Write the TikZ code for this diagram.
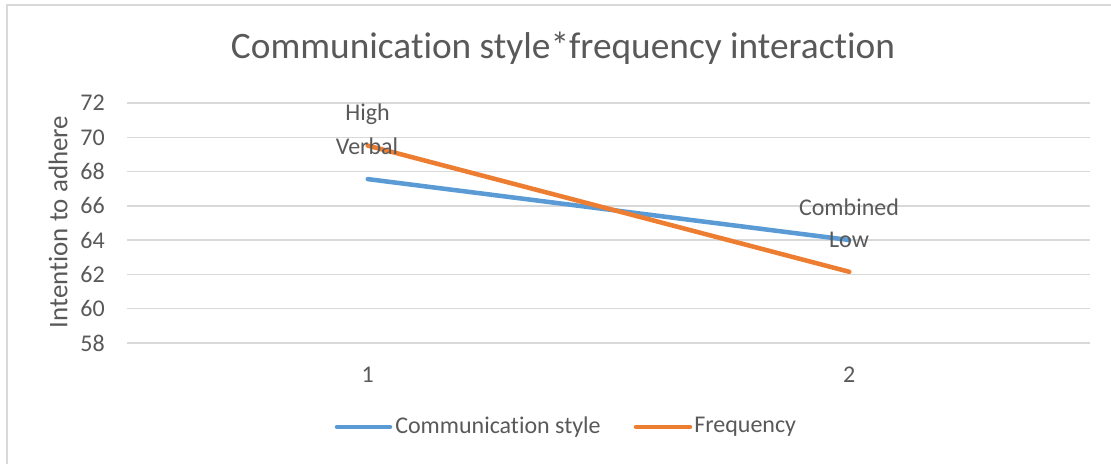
\documentclass[tikz,border=0pt]{standalone}
\usepackage{fontspec}
\setmainfont{Carlito}[RawFeature=-liga]
\usepackage{tikz}
\usetikzlibrary{positioning}
\definecolor{labelgray}{HTML}{595959}
\definecolor{gridgray}{HTML}{D9D9D9}
\definecolor{commblue}{HTML}{5B9BD5}
\definecolor{freqorange}{HTML}{ED7D31}

\begin{document}
\begin{tikzpicture}[
  x=0.75pt,y=-0.75pt,
  font=\fontsize{18}{21}\selectfont,
  frame/.style={draw=gridgray,line width=1.1pt},
  grid/.style={draw=gridgray,line width=1.1pt},
  ticklbl/.style={text=labelgray,inner sep=0pt,anchor=east},
  catlbl/.style={text=labelgray,inner sep=0pt},
  datalbl/.style={text=labelgray,inner sep=0pt},
  series/.style={line width=3.4pt,line cap=round},
  legtext/.style={text=labelgray,inner sep=0pt,anchor=west}
]
\useasboundingbox (0,0) rectangle (1111,464);

%------ chart frame ----------------------------------------------------------
\draw[frame] (7,464) -- (7,5) -- (1111,5);

%------ title + axis title ---------------------------------------------------
\node[text=labelgray,font=\fontsize{28}{32}\selectfont] (title) at (563,48)
      {Communication style*frequency interaction};
\node[text=labelgray,rotate=90,inner sep=0pt,font=\fontsize{20.2}{24}\selectfont] (ytitle) at (58,222)
      {Intention to adhere};

%------ gridlines + value axis -----------------------------------------------
\foreach \val/\ypos in {72/103,70/137.3,68/171.6,66/205.9,64/240.1,62/274.4,60/308.7,58/343}{
  \draw[grid] (127,\ypos) -- (1090,\ypos);
  \node[ticklbl] (tick\val) at (105,\ypos) {\val};
}

%------ category axis --------------------------------------------------------
\node[catlbl] (cat1) at (367.75,375) {1};
\node[catlbl] (cat2) at (849.25,375) {2};

%------ series ---------------------------------------------------------------
\coordinate (comma) at (367.75,179.1);
\coordinate (commb) at (849.25,240.0);
\coordinate (freqa) at (367.75,145.6);
\coordinate (freqb) at (849.25,271.8);
\draw[series,draw=commblue]   (comma) -- (commb);
\draw[series,draw=freqorange] (freqa) -- (freqb);

%------ data labels ----------------------------------------------------------
\node[datalbl] (high)  at (367.5,114.5) {High};
\node[datalbl] (verb)  at (367,146.7) {Verbal};
\node[datalbl] (comb)  at (849,207.5) {Combined};
\node[datalbl] (low)   at (849,240) {Low};

%------ legend ---------------------------------------------------------------
\coordinate (lega) at (337,427);
\coordinate (legb) at (390,427);
\coordinate (legc) at (636,427);
\coordinate (legd) at (690,427);
\draw[series,draw=commblue]   (lega) -- (legb);
\node[legtext] (legcomm) at (395,427) {Communication style};
\draw[series,draw=freqorange] (legc) -- (legd);
\node[legtext] (legfreq) at (694,427) {Frequency};
\end{tikzpicture}
\end{document}
